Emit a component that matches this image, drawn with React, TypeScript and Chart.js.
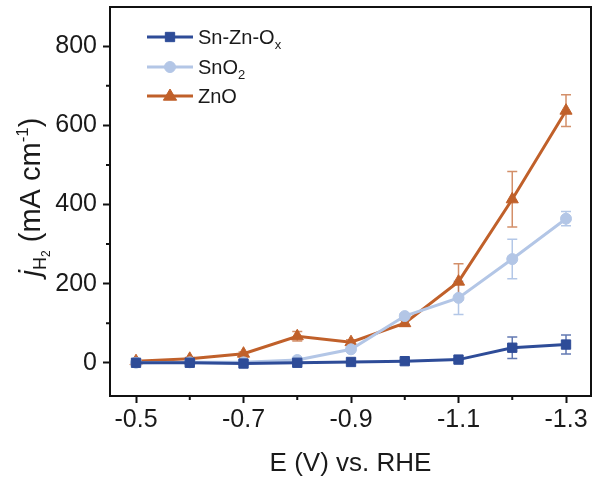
import React, { useEffect, useRef } from "react";
import { Chart, registerables } from "chart.js";
Chart.register(...registerables);

const voltages = [-0.5, -0.6, -0.7, -0.8, -0.9, -1.0, -1.1, -1.2, -1.3];
const snZnOx = [0, 0, -2, 0, 2, 4, 8, 38, 46];
const snZnOxErr = [2, 2, 3, 3, 3, 3, 3, 27, 24];
const sno2 = [0, 1, 1, 7, 34, 118, 164, 262, 364];
const sno2Err = [3, 3, 3, 5, 4, 6, 42, 50, 18];
const zno = [4, 10, 23, 67, 52, 100, 205, 413, 637];
const znoErr = [3, 3, 4, 12, 6, 8, 45, 70, 40];

const xTickValues = [-0.5, -0.7, -0.9, -1.1, -1.3];
const xMinorTickValues = [-0.6, -0.8, -1.0, -1.2];
const yTickValues = [0, 200, 400, 600, 800];
const yMinorTickValues = [100, 300, 500, 700];

const COL_SNZN = "#2E4C98";
const COL_SNO2 = "#B3C6E6";
const COL_ZNO = "#C0602A";
const ERR_SNZN = "rgba(46,76,152,0.75)";
const ERR_SNO2 = "rgba(160,185,225,0.8)";
const ERR_ZNO = "rgba(192,96,42,0.7)";
const TEXT = "#1a1a1a";
const FONT = "Liberation Sans, Arial, sans-serif";

const errors = [snZnOxErr, sno2Err, znoErr];
const errColors = [ERR_SNZN, ERR_SNO2, ERR_ZNO];

function drawMarker(ctx: CanvasRenderingContext2D, style: string, x: number, y: number, r: number, color: string) {
  ctx.save();
  ctx.fillStyle = color;
  ctx.strokeStyle = color;
  ctx.lineWidth = 1;
  ctx.beginPath();
  if (style === "rect") {
    const s = r * Math.SQRT1_2;
    ctx.rect(x - s, y - s, 2 * s, 2 * s);
  } else if (style === "circle") {
    ctx.arc(x, y, r, 0, Math.PI * 2);
  } else {
    ctx.moveTo(x, y - r);
    ctx.lineTo(x + r * 0.95, y + r * 0.6);
    ctx.lineTo(x - r * 0.95, y + r * 0.6);
    ctx.closePath();
  }
  ctx.fill();
  ctx.stroke();
  ctx.restore();
}

type Seg = { t: string; size: number; dy: number; italic?: boolean };

function drawSegs(ctx: CanvasRenderingContext2D, segs: Seg[], x: number, y: number, align: "left" | "center") {
  ctx.textBaseline = "alphabetic";
  ctx.textAlign = "left";
  let total = 0;
  for (const s of segs) {
    ctx.font = `${s.italic ? "italic " : ""}${s.size}px ${FONT}`;
    total += ctx.measureText(s.t).width;
  }
  let cx = align === "center" ? x - total / 2 : x;
  for (const s of segs) {
    ctx.font = `${s.italic ? "italic " : ""}${s.size}px ${FONT}`;
    ctx.fillText(s.t, cx, y + s.dy);
    cx += ctx.measureText(s.t).width;
  }
}

const framePlugin = {
  id: "frameAndExtras",
  beforeDatasetsDraw(chart: any) {
    const ctx = chart.ctx as CanvasRenderingContext2D;
    const ys = chart.scales.y;
    chart.data.datasets.forEach((ds: any, di: number) => {
      const meta = chart.getDatasetMeta(di);
      const err = errors[di];
      ctx.save();
      ctx.strokeStyle = errColors[di];
      ctx.lineWidth = 1.5;
      meta.data.forEach((pt: any, i: number) => {
        const v = ds.data[i].y;
        const e = err[i];
        const yt = ys.getPixelForValue(v + e);
        const yb = ys.getPixelForValue(v - e);
        const x = pt.x;
        ctx.beginPath();
        ctx.moveTo(x, yt);
        ctx.lineTo(x, yb);
        ctx.moveTo(x - 5, yt);
        ctx.lineTo(x + 5, yt);
        ctx.moveTo(x - 5, yb);
        ctx.lineTo(x + 5, yb);
        ctx.stroke();
      });
      ctx.restore();
    });
  },
  afterDraw(chart: any) {
    const ctx = chart.ctx as CanvasRenderingContext2D;
    const a = chart.chartArea;
    const xs = chart.scales.x;
    const ys = chart.scales.y;
    ctx.save();
    ctx.strokeStyle = "#111";
    ctx.lineWidth = 2;
    ctx.beginPath();
    ctx.moveTo(a.left, a.top);
    ctx.lineTo(a.right, a.top);
    ctx.lineTo(a.right, a.bottom);
    ctx.stroke();
    // minor ticks
    ctx.lineWidth = 2;
    ctx.beginPath();
    for (const v of xMinorTickValues) {
      const x = xs.getPixelForValue(v);
      ctx.moveTo(x, a.bottom);
      ctx.lineTo(x, a.bottom + 4);
    }
    for (const v of yMinorTickValues) {
      const y = ys.getPixelForValue(v);
      ctx.moveTo(a.left, y);
      ctx.lineTo(a.left - 4, y);
    }
    ctx.stroke();

    // y title
    ctx.fillStyle = TEXT;
    ctx.save();
    ctx.translate(40, 197);
    ctx.rotate(-Math.PI / 2);
    drawSegs(
      ctx,
      [
        { t: "j", size: 29, dy: 0, italic: true },
        { t: "H", size: 18, dy: 6 },
        { t: "2", size: 12, dy: 10 },
        { t: " (mA cm", size: 29, dy: 0 },
        { t: "-1", size: 17, dy: -12 },
        { t: ")", size: 29, dy: 0 },
      ],
      0,
      0,
      "center"
    );
    ctx.restore();

    // legend
    const lx0 = a.left + 37;
    const lx1 = a.left + 83;
    const tx = a.left + 88;
    const rows = [
      { y: a.top + 30, color: COL_SNZN, style: "rect", r: 6.6, segs: [{ t: "Sn-Zn-O", size: 20, dy: 0 }, { t: "x", size: 13, dy: 5 }] },
      { y: a.top + 60, color: COL_SNO2, style: "circle", r: 5.5, segs: [{ t: "SnO", size: 20, dy: 0 }, { t: "2", size: 13, dy: 5 }] },
      { y: a.top + 89, color: COL_ZNO, style: "triangle", r: 7, segs: [{ t: "ZnO", size: 20, dy: 0 }] },
    ];
    for (const r of rows) {
      ctx.strokeStyle = r.color;
      ctx.lineWidth = 3;
      ctx.beginPath();
      ctx.moveTo(lx0, r.y);
      ctx.lineTo(lx1, r.y);
      ctx.stroke();
      drawMarker(ctx, r.style, (lx0 + lx1) / 2, r.y, r.r, r.color);
      ctx.fillStyle = TEXT;
      drawSegs(ctx, r.segs as Seg[], tx, r.y + 7, "left");
    }
    ctx.restore();
  },
};

export default function App() {
  const ref = useRef<HTMLCanvasElement | null>(null);
  useEffect(() => {
    if (!ref.current) return;
    const mk = (vals: number[]) => vals.map((v, i) => ({ x: voltages[i], y: v }));
    const chart = new Chart(ref.current, {
      type: "line",
      data: {
        datasets: [
          {
            label: "Sn-Zn-Ox",
            data: mk(snZnOx),
            borderColor: COL_SNZN,
            backgroundColor: COL_SNZN,
            borderWidth: 3,
            pointStyle: "rect",
            pointRadius: 6.6,
            pointBorderWidth: 1,
          },
          {
            label: "SnO2",
            data: mk(sno2),
            borderColor: COL_SNO2,
            backgroundColor: COL_SNO2,
            borderWidth: 3,
            pointStyle: "circle",
            pointRadius: 5.5,
            pointBorderWidth: 1,
          },
          {
            label: "ZnO",
            data: mk(zno),
            borderColor: COL_ZNO,
            backgroundColor: COL_ZNO,
            borderWidth: 3,
            pointStyle: "triangle",
            pointRadius: 7,
            pointBorderWidth: 1,
          },
        ],
      },
      options: {
        responsive: false,
        animation: false,
        layout: { autoPadding: false, padding: { top: 7, right: 1, left: 0, bottom: 0 } },
        plugins: { legend: { display: false }, tooltip: { enabled: false } },
        scales: {
          x: {
            type: "linear",
            reverse: true,
            min: -1.3465,
            max: -0.4516,
            afterBuildTicks: (s: any) => {
              s.ticks = xTickValues.map((v) => ({ value: v }));
            },
            afterFit: (s: any) => {
              s.height = 86;
              s.paddingLeft = 0;
              s.paddingRight = 0;
            },
            ticks: {
              color: TEXT,
              font: { family: FONT, size: 25 },
              padding: 2,
              maxRotation: 0,
              autoSkip: false,
              callback: (v: any) => Number(v).toFixed(1),
            },
            grid: { display: true, drawOnChartArea: false, drawTicks: true, tickLength: 7, tickWidth: 2, tickColor: "#111" },
            border: { display: true, color: "#111", width: 2 },
            title: {
              display: true,
              text: "E (V) vs. RHE",
              color: TEXT,
              font: { family: FONT, size: 26 },
              padding: { top: 0, bottom: 3 },
            },
          },
          y: {
            type: "linear",
            min: -84,
            max: 899,
            afterBuildTicks: (s: any) => {
              s.ticks = yTickValues.map((v) => ({ value: v }));
            },
            afterFit: (s: any) => {
              s.width = 110;
              s.paddingTop = 0;
              s.paddingBottom = 0;
            },
            ticks: {
              color: TEXT,
              font: { family: FONT, size: 25 },
              padding: 6,
              autoSkip: false,
            },
            grid: { display: true, drawOnChartArea: false, drawTicks: true, tickLength: 7, tickWidth: 2, tickColor: "#111" },
            border: { display: true, color: "#111", width: 2 },
          },
        },
      },
      plugins: [framePlugin],
    } as any);
    return () => chart.destroy();
  }, []);
  return (
    <div style={{ position: "absolute", left: 0, top: 0, width: 592, height: 482, background: "#fff" }}>
      <canvas ref={ref} width={592} height={482} style={{ display: "block" }} />
    </div>
  );
}
